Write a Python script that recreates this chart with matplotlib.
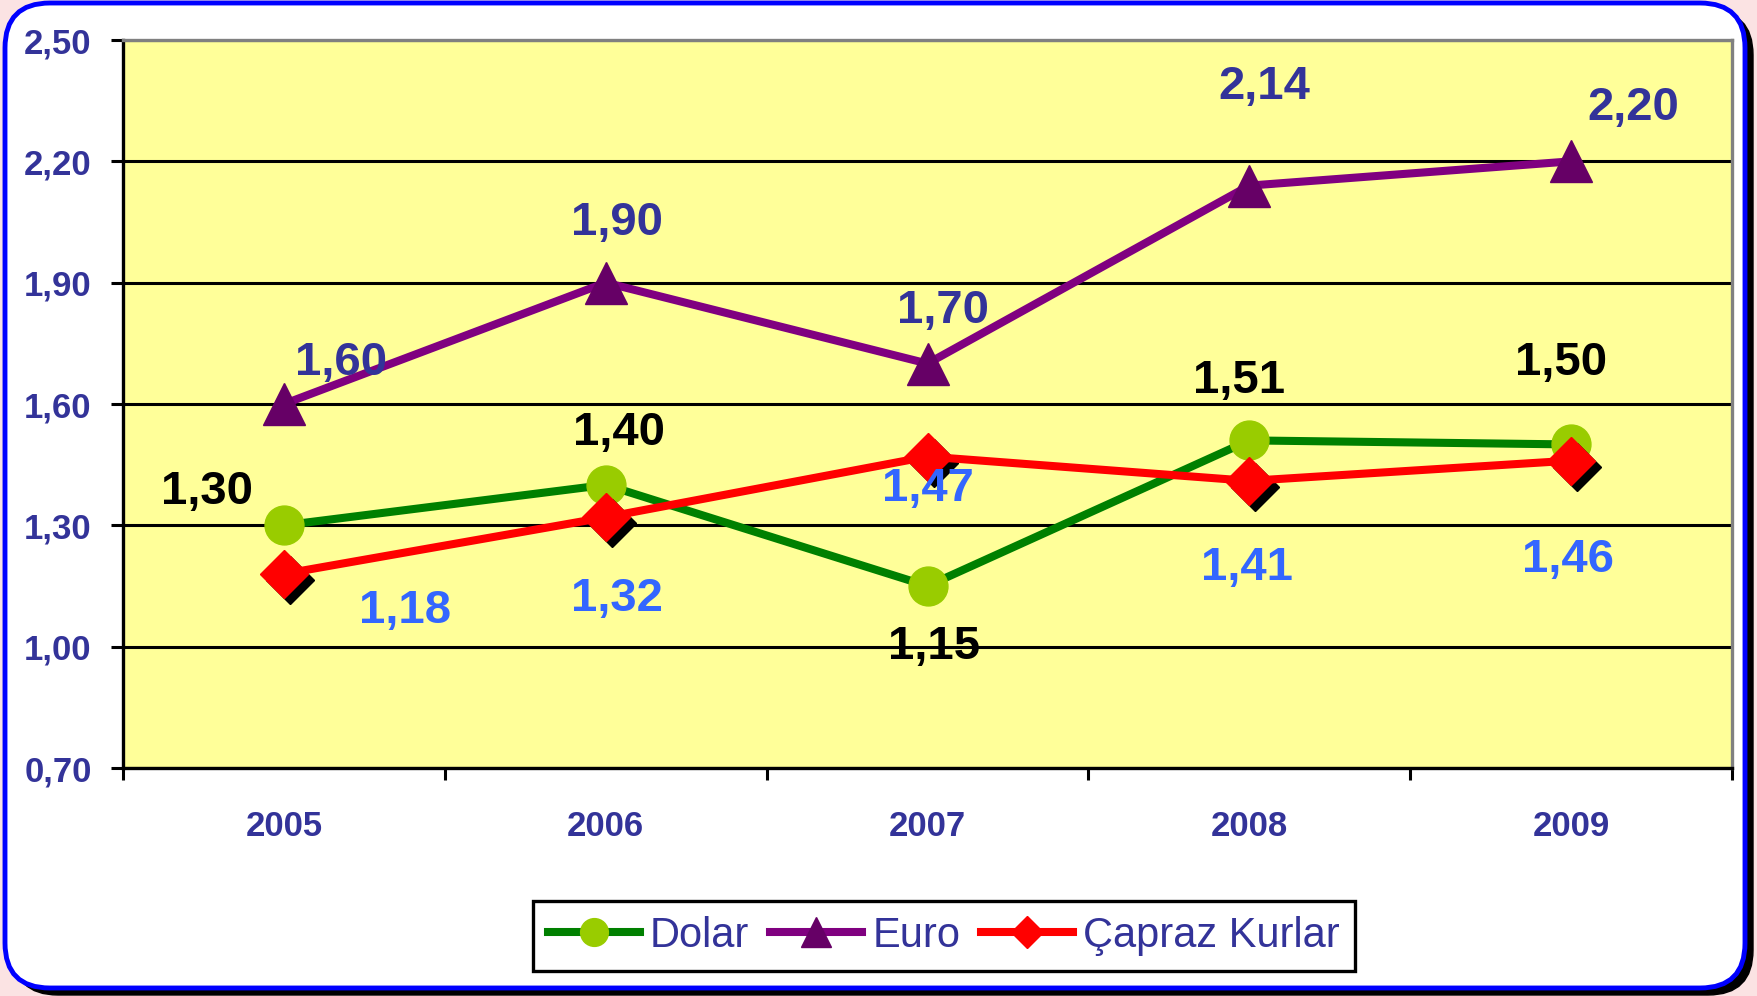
import numpy as np
import matplotlib
matplotlib.use("Agg")
import matplotlib.pyplot as plt
from matplotlib.patches import FancyBboxPatch
from matplotlib.lines import Line2D
import matplotlib.transforms as mtransforms

plt.rcParams['font.family'] = ['Liberation Sans', 'DejaVu Sans']

years = ['2005', '2006', '2007', '2008', '2009']
dolar = [1.30, 1.40, 1.15, 1.51, 1.50]
euro = [1.60, 1.90, 1.70, 2.14, 2.20]
capraz = [1.18, 1.32, 1.47, 1.41, 1.46]
series_names = ['Dolar', 'Euro', 'Çapraz Kurlar']
y_ticks = [0.70, 1.00, 1.30, 1.60, 1.90, 2.20, 2.50]

# label offsets in pixels (dx, dy) relative to each point
dolar_off = [(-77, 33), (13, 52), (7, -61), (-10, 59), (-10, 81)]
euro_off = [(57, 41), (11, 60), (16, 53), (15, 99), (62, 53)]
capraz_off = [(121, -37), (11, -82), (0, -32), (-2, -87), (-3, -99)]

W, H = 1757, 996
fig = plt.figure(figsize=(W / 100, H / 100), dpi=100)
fig.patch.set_facecolor('#fbe3e3')

# rounded frame with shadow (pixel coordinates)
ident = mtransforms.IdentityTransform()
shadow = FancyBboxPatch((13, 1), 1740, 985, boxstyle="round,pad=0,rounding_size=45",
                        transform=ident, facecolor='black', edgecolor='black', zorder=-2)
frame = FancyBboxPatch((5, 8), 1740, 985, boxstyle="round,pad=0,rounding_size=45",
                       transform=ident, facecolor='white', edgecolor='#0000ff',
                       linewidth=3.5, zorder=-1)
fig.add_artist(shadow)
fig.add_artist(frame)

ax = fig.add_axes([123 / W, 1 - 768 / H, (1732 - 123) / W, (768 - 40) / H])
ax.set_facecolor('#ffff99')

x = np.arange(len(years))
ax.plot(x, dolar, color='#008000', lw=5.8, marker='o', ms=28,
        mfc='#99cc00', mec='#99cc00', zorder=3)
ax.plot(x, euro, color='#800080', lw=5.8, marker='^', ms=30,
        mfc='#660066', mec='#660066', zorder=3)
sh = mtransforms.offset_copy(ax.transData, fig=fig, x=6, y=-6, units='dots')
ax.plot(x, capraz, ls='none', marker='D', ms=24, mfc='black', mec='black',
        transform=sh, zorder=3.5)
ax.plot(x, capraz, color='#ff0000', lw=5.8, marker='D', ms=24,
        mfc='#ff0000', mec='#ff0000', zorder=4)

def fmt(v):
    return f"{v:.2f}".replace('.', ',')

for vals, offs, col in [(dolar, dolar_off, 'black'),
                        (euro, euro_off, '#333399'),
                        (capraz, capraz_off, '#3366ff')]:
    for i, v in enumerate(vals):
        ax.annotate(fmt(v), (x[i], v), xytext=offs[i], textcoords='offset pixels',
                    ha='center', va='center', fontsize=34, fontweight='bold',
                    color=col, zorder=5)

ax.set_xlim(-0.5, len(years) - 0.5)
ax.set_ylim(0.70, 2.50)
ax.set_yticks(y_ticks)
ax.set_yticklabels([fmt(v) for v in y_ticks])
ax.yaxis.grid(True, color='black', lw=2.2)
ax.set_axisbelow(True)

ax.set_xticks(np.arange(-0.5, len(years), 1.0))
ax.set_xticklabels([])
ax.set_xticks(x, minor=True)
ax.set_xticklabels(years, minor=True)
ax.tick_params(axis='x', which='minor', length=0, pad=30, labelsize=25,
               labelcolor='#333399')
ax.tick_params(axis='x', which='major', direction='out', length=8.6, width=2.2)
ax.tick_params(axis='y', direction='out', length=8.6, width=2.2, pad=14,
               labelsize=25, labelcolor='#333399')
for lab in ax.get_xticklabels(minor=True) + ax.get_yticklabels():
    lab.set_fontweight('bold')

for s in ['left', 'bottom']:
    ax.spines[s].set_color('black')
    ax.spines[s].set_linewidth(2.4)
for s in ['top', 'right']:
    ax.spines[s].set_color('#808080')
    ax.spines[s].set_linewidth(2.4)

handles = [
    Line2D([], [], color='#008000', lw=5.8, marker='o', ms=20, mfc='#99cc00', mec='#99cc00'),
    Line2D([], [], color='#800080', lw=5.8, marker='^', ms=21, mfc='#660066', mec='#660066'),
    Line2D([], [], color='#ff0000', lw=5.8, marker='D', ms=16, mfc='#ff0000', mec='#ff0000'),
]
leg = fig.legend(handles, series_names, loc='center', bbox_to_anchor=(944 / W, 1 - 936 / H),
                 ncol=3, fontsize=30, labelcolor='#333399', frameon=True, fancybox=False,
                 edgecolor='black', framealpha=1, handlelength=2.2, handletextpad=0.25,
                 columnspacing=0.5, borderpad=0.35, borderaxespad=0)
leg.get_frame().set_linewidth(2.4)

fig.savefig('out.png', dpi=100, facecolor=fig.get_facecolor())
